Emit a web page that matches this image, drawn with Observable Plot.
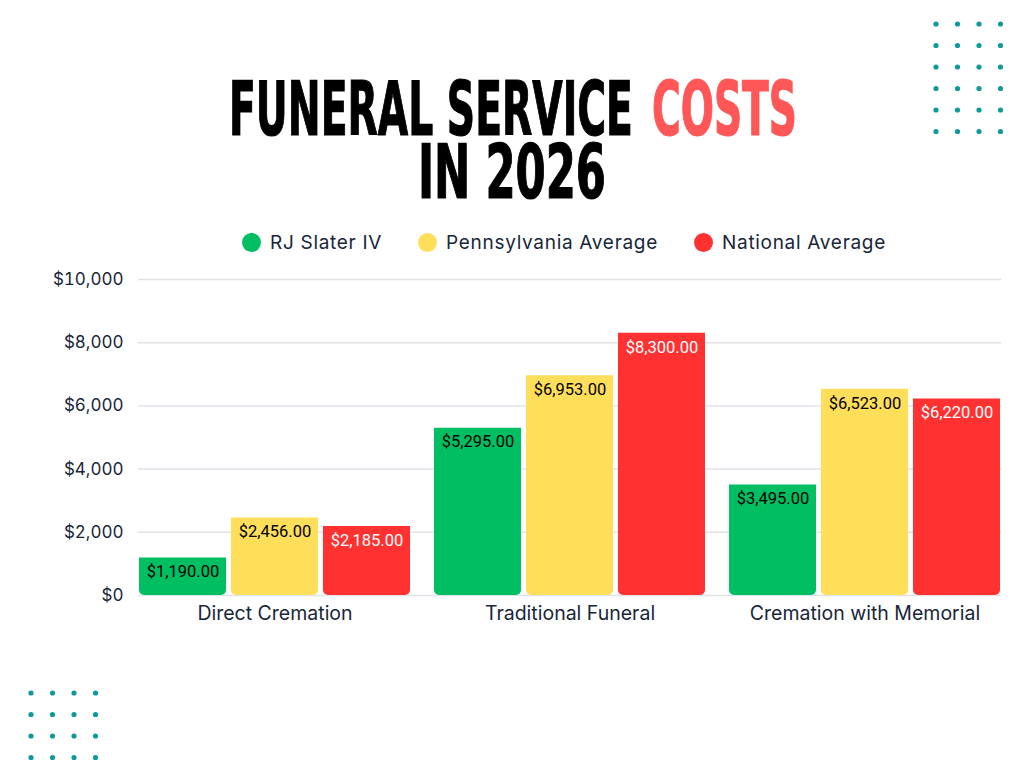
<!DOCTYPE html>
<html>
<head>
<meta charset="utf-8">
<script src="https://cdn.jsdelivr.net/npm/d3@7"></script>
<script src="https://cdn.jsdelivr.net/npm/@observablehq/plot@0.6"></script>
<style>
  html, body { margin: 0; padding: 0; background: #ffffff; }
  #page { position: relative; width: 1024px; height: 768px; overflow: hidden; background: #fff; }
  #header { position: absolute; left: 0; top: 0; }
  #legend { position: absolute; left: 131px; top: 230px; width: 866px; height: 24px;
            display: flex; justify-content: center; align-items: center; gap: 36px;
            font-family: Inter, "Noto Sans", sans-serif; font-size: 19px; letter-spacing: 0.7px; color: #17263a; }
  #legend .item { display: flex; align-items: center; }
  #legend .sw { width: 19px; height: 19px; border-radius: 50%; margin-right: 9px; display: inline-block; }
  #chart { position: absolute; left: 0; top: 260px; }
  #dots1, #dots2 { position: absolute; }
</style>
</head>
<body>
<div id="page">
  <svg id="header" width="1024" height="215"></svg>
  <div id="legend"></div>
  <div id="chart"></div>
  <svg id="dots1" width="100" height="140" style="left:920px;top:5px"></svg>
  <svg id="dots2" width="120" height="100" style="left:15px;top:675px"></svg>
</div>
<script>
// ---- data ----
const categories = ["Direct Cremation", "Traditional Funeral", "Cremation with Memorial"];
const seriesNames = ["RJ Slater IV", "Pennsylvania Average", "National Average"];
const rjSlater = [1190, 5295, 3495];
const pennsylvania = [2456, 6953, 6523];
const national = [2185, 8300, 6220];
const seriesColors = ["#00bf63", "#ffde59", "#ff3131"];
const yTicks = [0, 2000, 4000, 6000, 8000, 10000];
const titleLine1 = "FUNERAL SERVICE";
const titleAccent = "COSTS";
const titleLine2 = "IN 2026";

const seriesValues = [rjSlater, pennsylvania, national];
const data = [];
categories.forEach((c, i) => {
  seriesNames.forEach((s, j) => data.push({category: c, series: s, value: seriesValues[j][i]}));
});
const gridData = [];
categories.forEach(c => yTicks.forEach(t => gridData.push({category: c, tick: t})));

// ---- header ----
const ns = "http://www.w3.org/2000/svg";
const header = document.getElementById("header");
function mkText(str, x0, y, len, fill) {
  const t = document.createElementNS(ns, "text");
  t.setAttribute("x", 0);
  t.setAttribute("y", 0);
  t.setAttribute("font-family", "'DejaVu Sans Condensed', 'Liberation Sans Narrow', 'DejaVu Sans', sans-serif");
  t.setAttribute("font-weight", "bold");
  t.setAttribute("font-size", 74);
  t.setAttribute("fill", fill);
  t.setAttribute("stroke", fill);
  t.setAttribute("stroke-width", 1.2);
  t.textContent = str;
  header.appendChild(t);
  const w = t.getComputedTextLength() || len;
  t.setAttribute("transform", `translate(${x0},${y}) scale(${len / w},1)`);
  return t;
}
mkText(titleLine1, 229, 135, 404, "#000");
mkText(titleAccent, 652, 135, 145, "#ff5757");
mkText(titleLine2, 418, 198, 188, "#000");

// ---- legend ----
const legend = document.getElementById("legend");
seriesNames.forEach((s, i) => {
  const it = document.createElement("div"); it.className = "item";
  const sw = document.createElement("span"); sw.className = "sw"; sw.style.background = seriesColors[i];
  const tx = document.createElement("span"); tx.textContent = s;
  it.appendChild(sw); it.appendChild(tx); legend.appendChild(it);
});

// ---- decorative dots ----
function dots(id, cols, rows, x0, y0, step) {
  const svg = document.getElementById(id);
  for (let r = 0; r < rows; r++) for (let c = 0; c < cols; c++) {
    const ci = document.createElementNS(ns, "circle");
    ci.setAttribute("cx", x0 + c * step); ci.setAttribute("cy", y0 + r * step);
    ci.setAttribute("r", 2.6); ci.setAttribute("fill", "#0e9a9d");
    svg.appendChild(ci);
  }
}
dots("dots1", 4, 6, 16, 19, 21.5);
dots("dots2", 4, 4, 16, 18, 21.5);

// ---- chart ----
const fmtTick = d => "$" + d3.format(",")(d);
const fmtVal = d => "$" + d3.format(",.2f")(d);
const gridStyle = {stroke: "#dfe3e8", strokeWidth: 1.5};
const chart = Plot.plot({
  width: 1024,
  height: 380,
  marginTop: 19,
  marginBottom: 45,
  marginLeft: 137,
  marginRight: 21,
  style: {fontFamily: "Inter, 'Noto Sans', sans-serif", background: "transparent", overflow: "visible", color: "#17263a"},
  fx: {domain: categories, paddingInner: 0.074, paddingOuter: 0, label: null},
  x: {domain: seriesNames, paddingInner: 0.054, paddingOuter: 0, axis: null},
  y: {domain: [0, 10000], label: null},
  color: {domain: seriesNames, range: seriesColors},
  marks: [
    Plot.ruleY(gridData, {filter: d => d.category === categories[0], fx: "category", y: "tick", ...gridStyle, insetRight: -11}),
    Plot.ruleY(gridData, {filter: d => d.category === categories[1], fx: "category", y: "tick", ...gridStyle, insetLeft: -11, insetRight: -11}),
    Plot.ruleY(gridData, {filter: d => d.category === categories[2], fx: "category", y: "tick", ...gridStyle, insetLeft: -11}),
    Plot.barY(data, {fx: "category", x: "series", y: "value", fill: "series", ry2: 5}),
    Plot.text(data, {filter: d => d.series !== "National Average", fx: "category", x: "series", y: "value",
      text: d => fmtVal(d.value), dy: 14, fill: "#000", fontSize: 16.5, fontFamily: "Roboto, sans-serif"}),
    Plot.text(data, {filter: d => d.series === "National Average", fx: "category", x: "series", y: "value",
      text: d => fmtVal(d.value), dy: 14, fill: "#fff", fontSize: 16.5, fontFamily: "Roboto, sans-serif"}),
    Plot.axisY({ticks: yTicks, tickFormat: fmtTick, tickSize: 0, tickPadding: 15, fontSize: 17, label: null, style: {letterSpacing: "0.7px"}}),
    Plot.axisFx({anchor: "bottom", tickSize: 0, tickPadding: 11, fontSize: 19.5, label: null, style: {letterSpacing: "1.5px"}})
  ]
});
document.getElementById("chart").appendChild(chart);
</script>
</body>
</html>
